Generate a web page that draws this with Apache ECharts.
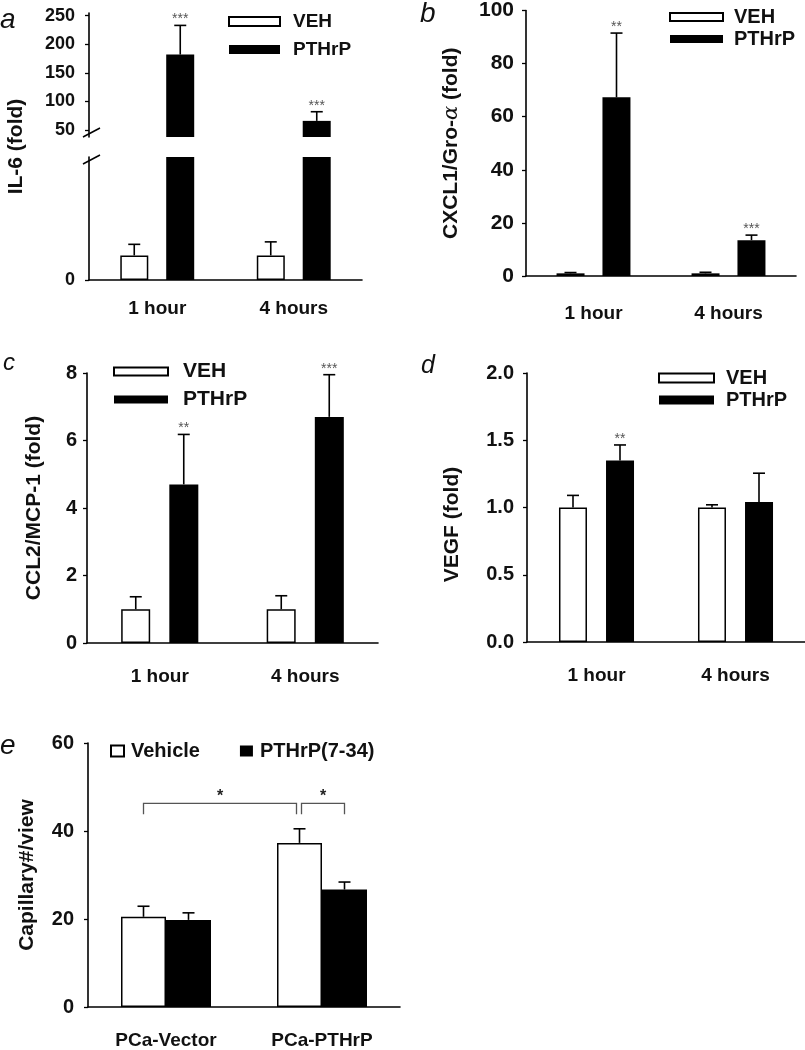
<!DOCTYPE html>
<html><head><meta charset="utf-8">
<script src="https://cdn.jsdelivr.net/npm/echarts@6/dist/echarts.min.js"></script>
<style>html,body{margin:0;padding:0;background:#fff}#c{width:805px;height:1050px}</style>
</head><body><div id="c"></div>
<script>
// ---------- DATA ----------
const timeCats = ['1 hour', '4 hours'];
// a: IL-6 (fold)
const il6Veh = [1.0, 1.0];
const il6VehErr = [1.45, 1.55];
const il6Pth = [182, 66];
const il6PthErr = [233, 82];
const il6Sig = ['***', '***'];
const il6UpperTicks = [50, 100, 150, 200, 250];
const il6LowerTicks = [0];
// b: CXCL1/Gro-a (fold)
const cxclVeh = [1.0, 1.0];
const cxclVehErr = [1.3, 1.4];
const cxclPth = [67.3, 13.5];
const cxclPthErr = [91.5, 15.4];
const cxclSig = ['**', '***'];
// c: CCL2/MCP-1 (fold)
const ccl2Veh = [1.0, 1.0];
const ccl2VehErr = [1.37, 1.4];
const ccl2Pth = [4.7, 6.7];
const ccl2PthErr = [6.18, 7.95];
const ccl2Sig = ['**', '***'];
// d: VEGF (fold)
const vegfVeh = [1.0, 1.0];
const vegfVehErr = [1.09, 1.02];
const vegfPth = [1.35, 1.04];
const vegfPthErr = [1.465, 1.255];
const vegfSig = ['**', ''];
// e: Capillary#/view
const groupCats = ['PCa-Vector', 'PCa-PTHrP'];
const capVeh = [20.5, 37.3];
const capVehErr = [22.9, 40.5];
const capInh = [19.8, 26.7];
const capInhErr = [21.4, 28.4];
// brackets: [fromCategory, fromSeries(0=Vehicle,1=PTHrP(7-34)), toCategory, toSeries, value]
const capBrackets = [[0, 0, 1, 0, 46.3], [1, 0, 1, 1, 46.3]];
const capBracketSig = ['*', '*'];

// ---------- STYLE ----------
const FONT = '"Liberation Sans", Arial, Helvetica, sans-serif';
const INK = '#111';
const AXW = 1.6;
const CAP = 12;
const whiteBar = { color: '#fff', borderColor: '#000', borderWidth: 1.5 };
const blackBar = { color: '#000', borderColor: '#000', borderWidth: 0 };

function errSeries(xi, yi, means, tops, sig, offset) {
  return {
    type: 'custom', xAxisIndex: xi, yAxisIndex: yi, z: 5, silent: true,
    data: means.map((m, i) => [i, tops[i], m]),
    encode: { x: 0, y: 1 },
    renderItem(params, api) {
      const i = api.value(0), top = api.value(1), mean = api.value(2);
      const p0 = api.coord([i, mean]), p1 = api.coord([i, top]);
      const x = p0[0] + offset;
      const st = { stroke: '#000', lineWidth: 1.6 };
      const ch = [
        { type: 'line', shape: { x1: x, y1: p0[1], x2: x, y2: p1[1] }, style: st },
        { type: 'line', shape: { x1: x - CAP / 2, y1: p1[1], x2: x + CAP / 2, y2: p1[1] }, style: st }
      ];
      const s = sig[params.dataIndex];
      if (s) ch.push({ type: 'text', x: x, y: p1[1] + 1, style: { text: s, fill: '#555', font: '14px ' + FONT, align: 'center', verticalAlign: 'bottom' } });
      return { type: 'group', children: ch };
    }
  };
}

function bracketSeries(xi, yi, data, sig, halfStep) {
  return {
    type: 'custom', xAxisIndex: xi, yAxisIndex: yi, z: 6, silent: true,
    data: data, encode: { x: 0, y: 4 },
    renderItem(params, api) {
      const a = api.coord([api.value(0), api.value(4)]);
      const b = api.coord([api.value(2), api.value(4)]);
      let x1 = a[0] + (api.value(1) ? halfStep : -halfStep);
      let x2 = b[0] + (api.value(3) ? halfStep : -halfStep);
      if (params.dataIndex === 0) x2 -= 3; else x1 += 2;
      const y = a[1], leg = 11;
      const st = { stroke: '#555', lineWidth: 1.3, fill: null };
      return { type: 'group', children: [
        { type: 'polyline', shape: { points: [[x1, y + leg], [x1, y], [x2, y], [x2, y + leg]] }, style: st },
        { type: 'text', x: (x1 + x2) / 2, y: y + 1, style: { text: sig[params.dataIndex], fill: '#222', font: 'bold 16px ' + FONT, align: 'center', verticalAlign: 'bottom' } }
      ] };
    }
  };
}

function xCat(gi, cats, margin, show) {
  return {
    type: 'category', gridIndex: gi, data: cats, show: show !== false,
    axisLine: { lineStyle: { color: '#000', width: AXW } },
    axisTick: { show: false },
    axisLabel: { margin: margin, fontSize: 19, fontWeight: 'bold', color: INK, fontFamily: FONT }
  };
}
function yVal(gi, o) {
  return Object.assign({
    type: 'value', gridIndex: gi, splitLine: { show: false },
    axisLine: { show: true, lineStyle: { color: '#000', width: AXW } },
    axisTick: { show: true, inside: false, length: 4, lineStyle: { color: '#000', width: 1.3 } },
    nameLocation: 'middle', nameRotate: 90,
    nameTextStyle: { fontSize: 21, fontWeight: 'bold', color: INK, fontFamily: FONT },
  }, o);
}
function lab(size, margin, fmt) {
  const l = { fontSize: size, fontWeight: 'bold', color: INK, fontFamily: FONT, margin: margin };
  if (fmt) l.formatter = fmt;
  return l;
}

const option = {
  animation: false,
  backgroundColor: '#fff',
  grid: [
    { left: 89, width: 273, top: 13, height: 124 },   // 0 a upper
    { left: 89, width: 273, top: 157, height: 123 },  // 1 a lower
    { left: 89, width: 273, top: 13, height: 267 },   // 2 a name helper
    { left: 526, width: 270, top: 10, height: 266 },  // 3 b
    { left: 87, width: 291, top: 373, height: 270 },  // 4 c
    { left: 527, right: 0, top: 373, height: 269 },   // 5 d
    { left: 88, width: 312, top: 743, height: 265 }   // 6 e
  ],
  xAxis: [
    xCat(0, timeCats, 19, false),
    xCat(1, timeCats, 19),
    xCat(2, timeCats, 19, false),
    xCat(3, timeCats, 28),
    xCat(4, timeCats, 24),
    xCat(5, timeCats, 24),
    xCat(6, groupCats, 24)
  ],
  yAxis: [
    yVal(0, { min: 37.8, max: 254.7, axisLabel: Object.assign(lab(18, 14), { customValues: il6UpperTicks }), axisTick: { show: true, length: 4, customValues: il6UpperTicks, lineStyle: { color: '#000', width: 1.3 } } }),
    yVal(1, { min: 0, max: 5, axisLabel: Object.assign(lab(18, 14), { customValues: il6LowerTicks }), axisTick: { show: true, length: 4, customValues: il6LowerTicks, lineStyle: { color: '#000', width: 1.3 } } }),
    yVal(2, { min: 0, max: 1, axisLine: { show: false }, axisTick: { show: false }, axisLabel: { show: false }, name: 'IL-6 (fold)', nameGap: 62 }),
    yVal(3, { min: 0, max: 100, interval: 20, axisLabel: lab(21, 12), name: 'CXCL1/Gro-{g|α} (fold)', nameGap: 64,
      nameTextStyle: { fontSize: 21, fontWeight: 'bold', color: INK, fontFamily: FONT, rich: { g: { fontSize: 21, fontStyle: 'italic', fontWeight: 'normal', fontFamily: '"DejaVu Serif", serif', color: INK } } } }),
    yVal(4, { min: 0, max: 8, interval: 2, axisLabel: lab(20, 10), name: 'CCL2/MCP-1 (fold)', nameGap: 42 }),
    yVal(5, { min: 0, max: 2, interval: 0.5, axisLabel: lab(20, 13, v => v.toFixed(1)), name: 'VEGF (fold)', nameGap: 64,
      nameTextStyle: { fontSize: 21, fontWeight: 'bold', color: INK, fontFamily: FONT, padding: [0, 34, 0, 0] } }),
    yVal(6, { min: 0, max: 60, interval: 20, axisLabel: lab(20, 14), name: 'Capillary#/view', nameGap: 50 })
  ],
  legend: [
    { left: 228, top: 12, padding: 0, orient: 'vertical', itemWidth: 51, itemHeight: 9, itemGap: 9, icon: 'rect', selectedMode: false, data: ['VEH', 'PTHrP'],
      textStyle: { fontSize: 19, fontWeight: 'bold', color: INK, fontFamily: FONT, padding: [0, 0, 0, 8] } },
    { left: 669, top: 7, padding: 0, orient: 'vertical', itemWidth: 53, itemHeight: 8, itemGap: 2, icon: 'rect', selectedMode: false, data: ['VEH', 'PTHrP'],
      textStyle: { fontSize: 20, fontWeight: 'bold', color: INK, fontFamily: FONT, padding: [0, 0, 0, 6] } },
    { left: 113, top: 361, padding: 0, orient: 'vertical', itemWidth: 54, itemHeight: 8, itemGap: 7, icon: 'rect', selectedMode: false, data: ['VEH', 'PTHrP'],
      textStyle: { fontSize: 21, fontWeight: 'bold', color: INK, fontFamily: FONT, padding: [0, 0, 0, 10] } },
    { left: 658, top: 368, padding: 0, orient: 'vertical', itemWidth: 55, itemHeight: 9, itemGap: 2, icon: 'rect', selectedMode: false, data: ['VEH', 'PTHrP'],
      textStyle: { fontSize: 20, fontWeight: 'bold', color: INK, fontFamily: FONT, padding: [0, 0, 0, 7] } },
    { left: 110, top: 741, padding: 0, orient: 'horizontal', itemWidth: 13, itemHeight: 11, itemGap: 40, icon: 'rect', selectedMode: false, data: ['Vehicle', 'PTHrP(7-34)'],
      textStyle: { fontSize: 20, fontWeight: 'bold', color: INK, fontFamily: FONT, padding: [0, 0, 0, 2] } }
  ],
  series: [
    // a upper
    { type: 'bar', name: 'VEH', xAxisIndex: 0, yAxisIndex: 0, data: il6Veh, barWidth: 28, barGap: '64%', itemStyle: whiteBar, clip: true },
    { type: 'bar', name: 'PTHrP', xAxisIndex: 0, yAxisIndex: 0, data: il6Pth, barWidth: 28, barGap: '64%', itemStyle: blackBar, clip: true },
    // a lower
    { type: 'bar', name: 'VEH', xAxisIndex: 1, yAxisIndex: 1, data: il6Veh, barWidth: 28, barGap: '64%', itemStyle: whiteBar, clip: true },
    { type: 'bar', name: 'PTHrP', xAxisIndex: 1, yAxisIndex: 1, data: il6Pth, barWidth: 28, barGap: '64%', itemStyle: blackBar, clip: true },
    errSeries(1, 1, il6Veh, il6VehErr, ['', ''], -23),
    errSeries(0, 0, il6Pth, il6PthErr, il6Sig, 23),
    // b
    { type: 'bar', name: 'VEH', xAxisIndex: 3, yAxisIndex: 3, data: cxclVeh, barWidth: 28, barGap: '64%', itemStyle: whiteBar },
    { type: 'bar', name: 'PTHrP', xAxisIndex: 3, yAxisIndex: 3, data: cxclPth, barWidth: 28, barGap: '64%', itemStyle: blackBar },
    errSeries(3, 3, cxclVeh, cxclVehErr, ['', ''], -23),
    errSeries(3, 3, cxclPth, cxclPthErr, cxclSig, 23),
    // c
    { type: 'bar', name: 'VEH', xAxisIndex: 4, yAxisIndex: 4, data: ccl2Veh, barWidth: 29, barGap: '66%', itemStyle: whiteBar },
    { type: 'bar', name: 'PTHrP', xAxisIndex: 4, yAxisIndex: 4, data: ccl2Pth, barWidth: 29, barGap: '66%', itemStyle: blackBar },
    errSeries(4, 4, ccl2Veh, ccl2VehErr, ['', ''], -24),
    errSeries(4, 4, ccl2Pth, ccl2PthErr, ccl2Sig, 24),
    // d
    { type: 'bar', name: 'VEH', xAxisIndex: 5, yAxisIndex: 5, data: vegfVeh, barWidth: 28, barGap: '68%', itemStyle: whiteBar },
    { type: 'bar', name: 'PTHrP', xAxisIndex: 5, yAxisIndex: 5, data: vegfPth, barWidth: 28, barGap: '68%', itemStyle: blackBar },
    errSeries(5, 5, vegfVeh, vegfVehErr, ['', ''], -23.5),
    errSeries(5, 5, vegfPth, vegfPthErr, vegfSig, 23.5),
    // e
    { type: 'bar', name: 'Vehicle', xAxisIndex: 6, yAxisIndex: 6, data: capVeh, barWidth: 45, barGap: '0%', itemStyle: whiteBar },
    { type: 'bar', name: 'PTHrP(7-34)', xAxisIndex: 6, yAxisIndex: 6, data: capInh, barWidth: 45, barGap: '0%', itemStyle: blackBar },
    errSeries(6, 6, capVeh, capVehErr, ['', ''], -22.5),
    errSeries(6, 6, capInh, capInhErr, ['', ''], 22.5),
    bracketSeries(6, 6, capBrackets, capBracketSig, 22.5)
  ],
  graphic: [
    { type: 'text', left: 0, top: 6, style: { text: 'a', font: 'italic 28px ' + FONT, fill: INK } },
    { type: 'text', left: 420, top: 0, style: { text: 'b', font: 'italic 28px ' + FONT, fill: INK } },
    { type: 'text', left: 3, top: 351, style: { text: 'c', font: 'italic 24px ' + FONT, fill: INK } },
    { type: 'text', left: 421, top: 354, style: { text: 'd', font: 'italic 25px ' + FONT, fill: INK } },
    { type: 'text', left: 0, top: 732, style: { text: 'e', font: 'italic 28px ' + FONT, fill: INK } },
    // axis-break marks on panel a
    { type: 'line', shape: { x1: 83, y1: 137, x2: 100, y2: 128 }, style: { stroke: '#000', lineWidth: 1.5 } },
    { type: 'line', shape: { x1: 83, y1: 164, x2: 100, y2: 155 }, style: { stroke: '#000', lineWidth: 1.5 } }
  ]
};

const chart = echarts.init(document.getElementById('c'), null, { renderer: 'canvas' });
chart.setOption(option);
</script></body></html>
